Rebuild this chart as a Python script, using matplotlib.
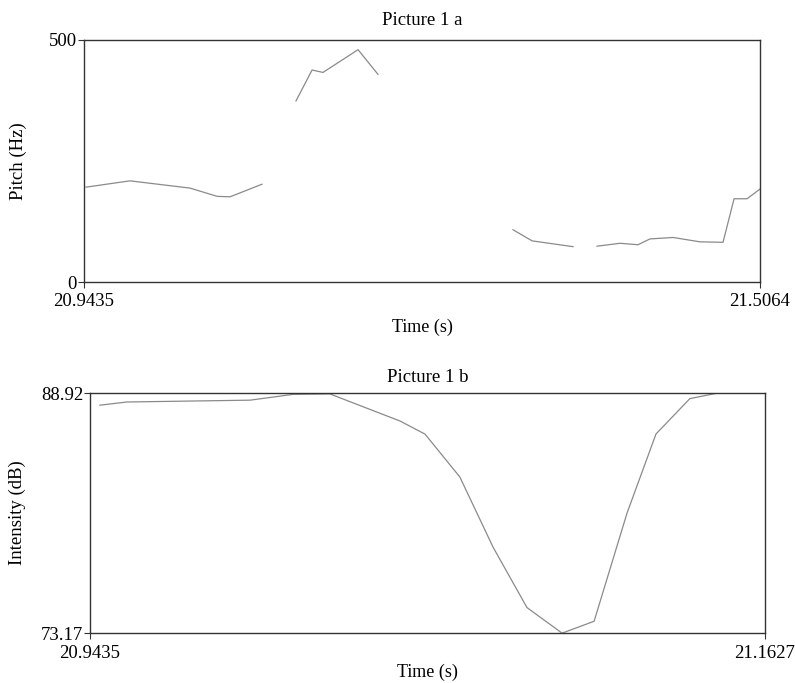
import matplotlib
matplotlib.use("Agg")
import matplotlib.pyplot as plt
import numpy as np

# ---- Data ----
pitch_seg1_t = [20.9452, 20.9818, 21.0318, 21.0543, 21.0651, 21.0917]
pitch_seg1_hz = [196, 209, 194, 177, 176, 202]
pitch_seg2_t = [21.1200, 21.1334, 21.1425, 21.1717, 21.1883]
pitch_seg2_hz = [374, 438, 433, 480, 429]
pitch_seg3_t = [21.3007, 21.3166, 21.3507]
pitch_seg3_hz = [108, 85, 73]
pitch_seg4_t = [21.3707, 21.3898, 21.4048, 21.4148, 21.4340, 21.4564,
                21.4756, 21.4848, 21.4956, 21.5064]
pitch_seg4_hz = [74, 80, 77, 89, 92, 83, 82, 172, 172, 192]

int_t = [20.9467, 20.9555, 20.9955, 21.0094, 21.0214, 21.0442, 21.0523,
         21.0636, 21.0744, 21.0854, 21.0968, 21.1072, 21.1179, 21.1273,
         21.1383, 21.1474]
int_db = [88.12, 88.33, 88.45, 88.83, 88.86, 87.08, 86.22, 83.41, 78.80,
          74.84, 73.16, 73.94, 81.04, 86.23, 88.55, 88.92]

pitch_xlim = [20.9435, 21.5064]
pitch_ylim = [0, 500]
pitch_xlabels = ["20.9435", "21.5064"]
pitch_ylabels = ["0", "500"]

int_xlim = [20.9435, 21.1627]
int_ylim = [73.17, 88.92]
int_xlabels = ["20.9435", "21.1627"]
int_ylabels = ["73.17", "88.92"]

titles = ["Picture 1 a", "Picture 1 b"]

plt.rcParams['font.family'] = ['Liberation Serif', 'DejaVu Serif']

W, H = 795, 683
fig = plt.figure(figsize=(W / 100, H / 100), dpi=100)

def frac(left, top, right, bottom):
    return [left / W, 1 - bottom / H, (right - left) / W, (bottom - top) / H]

ax1 = fig.add_axes(frac(84, 40, 760, 282))
ax2 = fig.add_axes(frac(90, 393, 765, 633))

line_col = "#8a8a8a"
frame_col = "#333333"

for seg_t, seg_v in [(pitch_seg1_t, pitch_seg1_hz), (pitch_seg2_t, pitch_seg2_hz),
                     (pitch_seg3_t, pitch_seg3_hz), (pitch_seg4_t, pitch_seg4_hz)]:
    ax1.plot(seg_t, seg_v, color=line_col, lw=0.9)

ax2.plot(int_t, int_db, color=line_col, lw=0.9)

FS = 13.5
configs = [
    # ax, xlim, ylim, xlabels, ylabels, ylabel, title, ylabel x, xlabel y, xtick pad, title pad
    (ax1, pitch_xlim, pitch_ylim, pitch_xlabels, pitch_ylabels, "Pitch (Hz)", titles[0], -0.085, -0.15, 4, 11),
    (ax2, int_xlim, int_ylim, int_xlabels, int_ylabels, "Intensity (dB)", titles[1], -0.095, -0.128, 5, 8),
]

for ax, xl, yl, xlab, ylab, ylabel, title, ylx, xly, xpad, tpad in configs:
    ax.set_xlim(xl)
    ax.set_ylim(yl)
    ax.set_xticks(xl)
    ax.set_xticklabels(xlab)
    ax.set_yticks(yl)
    ax.set_yticklabels(ylab)
    ax.tick_params(direction='out', length=4, width=0.8, color=frame_col,
                   labelsize=FS)
    ax.tick_params(axis='y', pad=1)
    ax.tick_params(axis='x', pad=xpad)
    for s in ax.spines.values():
        s.set_color(frame_col)
        s.set_linewidth(1.0)
    ax.set_ylabel(ylabel, fontsize=FS)
    ax.yaxis.set_label_coords(ylx, 0.5)
    ax.set_xlabel("Time (s)", fontsize=13)
    ax.xaxis.set_label_coords(0.5, xly)
    ax.set_title(title, fontsize=FS, pad=tpad)

fig.savefig("out.png", dpi=100, facecolor="white")
